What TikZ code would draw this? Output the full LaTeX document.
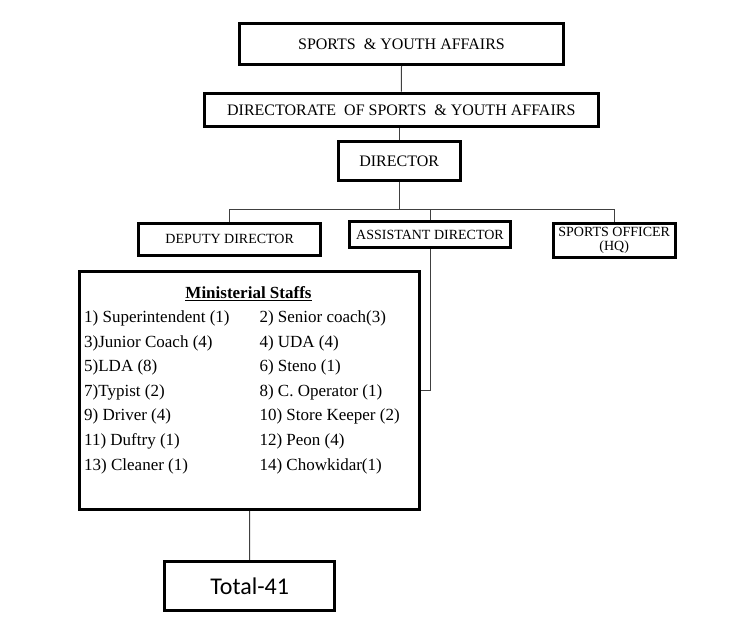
\documentclass[tikz,border=0pt]{standalone}
\usepackage{fontspec}
\setmainfont{Liberation Serif}
\newfontfamily\calibfont{Carlito}
\tikzset{
  box/.style={draw=black, line width=3pt, inner sep=0pt, align=center},
  conn/.style={draw=black!75, line width=1pt},
  staffrow/.style={anchor=base west, inner sep=0pt, font=\fontsize{17}{20}\selectfont},
}
\begin{document}
\begin{tikzpicture}[x=1pt,y=-1pt]
\useasboundingbox[fill=white] (0,0) rectangle (751,636);

\node[box, minimum width=324pt, minimum height=41pt, font=\fontsize{16}{19}\selectfont] (b1) at (401.5,44) {SPORTS\ \ \& YOUTH AFFAIRS};
\node[box, minimum width=394pt, minimum height=33.6pt, font=\fontsize{16}{19}\selectfont] (b2) at (401.3,110) {DIRECTORATE\ \ OF SPORTS\ \ \& YOUTH AFFAIRS};
\node[box, minimum width=122pt, minimum height=38.7pt, font=\fontsize{16}{19}\selectfont] (b3) at (399.2,160.8) {DIRECTOR};
\node[box, minimum width=181.7pt, minimum height=32pt, font=\fontsize{14}{16}\selectfont] (dep) at (229.7,239.3) {DEPUTY DIRECTOR};
\node[box, minimum width=161pt, minimum height=26pt, font=\fontsize{14}{16}\selectfont] (ast) at (430,234.5) {ASSISTANT DIRECTOR};
\node[box, minimum width=122pt, minimum height=34.3pt, font=\fontsize{14}{13.5}\selectfont] (so) at (614.2,240.3) {SPORTS OFFICER\\(HQ)};
\node[box, minimum width=340pt, minimum height=238pt] (staff) at (249.5,390.5) {};
\node[box, minimum width=169.7pt, minimum height=48.7pt, font=\calibfont\fontsize{24}{28}\selectfont] (total) at (249.7,585.8) {Total-41};

% staff text
\node[anchor=base, inner sep=0pt, font=\bfseries\fontsize{17}{20}\selectfont] (title) at (248.5,298.3) {\underline{Ministerial Staffs}};
\node[staffrow] (s1) at (84,322.7) {1) Superintendent (1)};
\node[staffrow] (s2) at (259.3,322.7) {2) Senior coach(3)};
\node[staffrow] (s3) at (84,347.3) {3)Junior Coach (4)};
\node[staffrow] (s4) at (259.3,347.3) {4) UDA (4)};
\node[staffrow] (s5) at (84,371.8) {5)LDA (8)};
\node[staffrow] (s6) at (259.3,371.8) {6) Steno (1)};
\node[staffrow] (s7) at (84,396.3) {7)Typist (2)};
\node[staffrow] (s8) at (259.3,396.3) {8) C. Operator (1)};
\node[staffrow] (s9) at (84,420.8) {9) Driver (4)};
\node[staffrow] (s10) at (259.3,420.8) {10) Store Keeper (2)};
\node[staffrow] (s11) at (84,445.4) {11) Duftry (1)};
\node[staffrow] (s12) at (259.3,445.4) {12) Peon (4)};
\node[staffrow] (s13) at (84,470) {13) Cleaner (1)};
\node[staffrow] (s14) at (259.3,470) {14) Chowkidar(1)};

% connectors
\coordinate (j) at (399.2,209.3);
\coordinate (sj) at (421,390);
\draw[conn] (b1.south) -- (b2.north);
\draw[conn] (b3.north) -- (b3.north |- b2.south);
\draw[conn] (b3.south) -- (j);
\draw[conn] (dep.north |- j) -- (so.north |- j);
\draw[conn] (dep.north) -- (dep.north |- j);
\draw[conn] (ast.north) -- (ast.north |- j);
\draw[conn] (so.north) -- (so.north |- j);
\draw[conn] (ast.south) |- (sj);
\draw[conn] (staff.south) -- (total.north);
\end{tikzpicture}
\end{document}
